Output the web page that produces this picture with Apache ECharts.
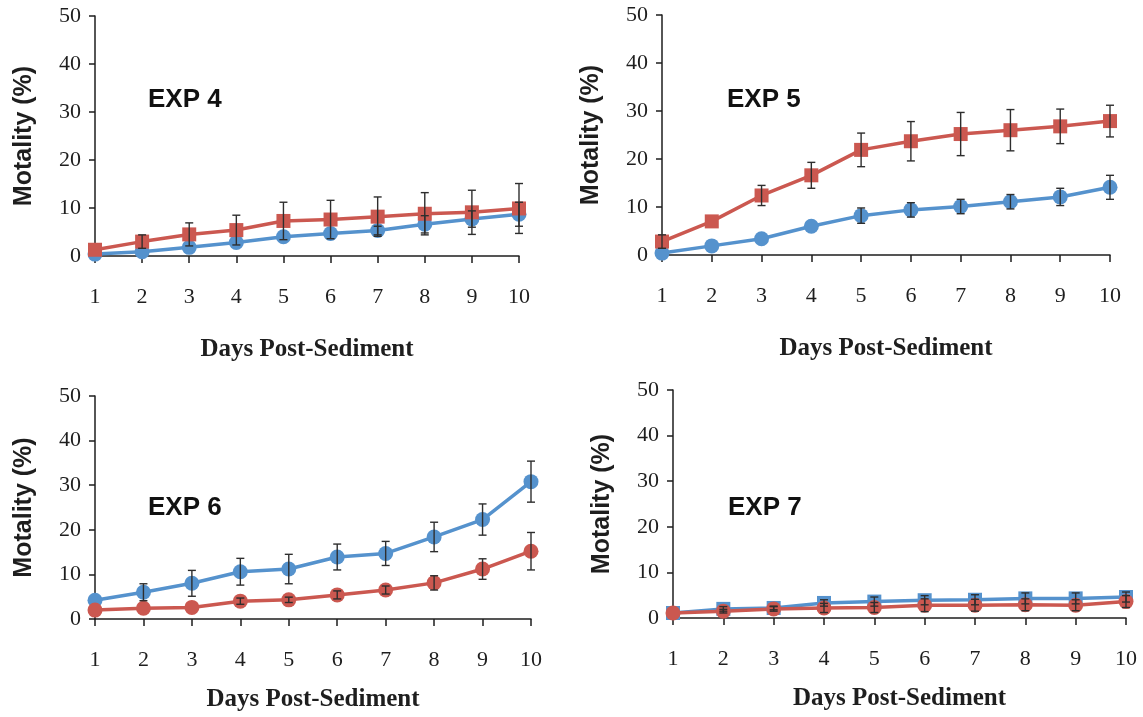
<!DOCTYPE html>
<html>
<head>
<meta charset="utf-8">
<script src="https://cdn.jsdelivr.net/npm/echarts@6/dist/echarts.min.js"></script>
<style>
  html, body { margin: 0; padding: 0; background: #fff; }
  #main { width: 1143px; height: 717px; }
</style>
</head>
<body>
<div id="main"></div>
<script>
// days on the x axis
const days = [1, 2, 3, 4, 5, 6, 7, 8, 9, 10];
const yTicks = [0, 10, 20, 30, 40, 50];

// EXP 4
const exp4Blue = [0.4, 0.9, 1.8, 2.8, 4.0, 4.7, 5.3, 6.6, 7.7, 8.7];
const exp4BlueErr = [0, 0, 0, 0, 0, 0, 0.9, 1.8, 1.7, 2.5];
const exp4Red = [1.3, 3.0, 4.5, 5.4, 7.3, 7.6, 8.2, 8.8, 9.1, 9.9];
const exp4RedErr = [0, 1.4, 2.4, 3.1, 3.9, 4.0, 4.1, 4.4, 4.6, 5.2];

// EXP 5
const exp5Blue = [0.4, 1.9, 3.4, 6.0, 8.2, 9.4, 10.1, 11.1, 12.1, 14.1];
const exp5BlueErr = [0, 0, 0, 0, 1.6, 1.5, 1.5, 1.5, 1.8, 2.5];
const exp5Red = [2.8, 7.0, 12.4, 16.6, 21.9, 23.7, 25.2, 26.0, 26.8, 27.9];
const exp5RedErr = [1.4, 0, 2.1, 2.7, 3.5, 4.1, 4.5, 4.3, 3.6, 3.3];

// EXP 6
const exp6Blue = [4.2, 6.0, 8.0, 10.6, 11.2, 13.9, 14.7, 18.4, 22.3, 30.8];
const exp6BlueErr = [0, 1.9, 2.9, 3.0, 3.3, 2.9, 2.7, 3.3, 3.5, 4.6];
const exp6Red = [2.0, 2.4, 2.6, 4.0, 4.3, 5.4, 6.5, 8.1, 11.2, 15.2];
const exp6RedErr = [0, 0, 0, 0.7, 0.6, 0.9, 0.9, 1.6, 2.3, 4.2];

// EXP 7
const exp7Blue = [1.1, 2.0, 2.2, 3.3, 3.6, 3.9, 4.0, 4.3, 4.3, 4.6];
const exp7BlueErr = [0, 0.5, 0.4, 0.7, 1.0, 1.0, 1.1, 1.2, 1.2, 1.1];
const exp7Red = [1.1, 1.5, 2.0, 2.2, 2.3, 2.8, 2.8, 2.9, 2.8, 3.6];
const exp7RedErr = [0, 0.4, 0.5, 1.0, 1.1, 1.4, 1.3, 1.3, 1.2, 1.3];

const titles = ['EXP 4', 'EXP 5', 'EXP 6', 'EXP 7'];
const xName = 'Days Post-Sediment';
const yName = 'Motality (%)';

const BLUE = '#5592cd';
const RED = '#cb5850';
const INK = '#1e1e1e';

const panels = [
  { blue: exp4Blue, blueErr: exp4BlueErr, red: exp4Red, redErr: exp4RedErr, blueSym: 'circle', redSym: 'rect' },
  { blue: exp5Blue, blueErr: exp5BlueErr, red: exp5Red, redErr: exp5RedErr, blueSym: 'circle', redSym: 'rect' },
  { blue: exp6Blue, blueErr: exp6BlueErr, red: exp6Red, redErr: exp6RedErr, blueSym: 'circle', redSym: 'circle' },
  { blue: exp7Blue, blueErr: exp7BlueErr, red: exp7Red, redErr: exp7RedErr, blueSym: 'rect', redSym: 'circle' }
];

// layout of the four panels
const grids = [
  { left: 95, top: 16, width: 424, height: 240 },
  { left: 662, top: 15, width: 448, height: 240 },
  { left: 95, top: 396, width: 436, height: 223 },
  { left: 673, top: 390, width: 453, height: 228 }
];
const titlePos = [[148, 87], [727, 87], [148, 495], [728, 495]];
const xNameGap = [81, 81, 68, 68];

function errData(vals, errs) {
  return days.map((d, i) => [d, vals[i] - errs[i], vals[i] + errs[i]]);
}

function errorBars(params, api) {
  const x = api.value(0);
  if (api.value(2) - api.value(1) <= 0) return null;
  const lo = api.coord([x, api.value(1)]);
  const hi = api.coord([x, api.value(2)]);
  const cap = 4;
  const style = { stroke: '#2e2e2e', lineWidth: 1.4 };
  return {
    type: 'group',
    children: [
      { type: 'line', shape: { x1: hi[0], y1: hi[1], x2: lo[0], y2: lo[1] }, style: style },
      { type: 'line', shape: { x1: hi[0] - cap, y1: hi[1], x2: hi[0] + cap, y2: hi[1] }, style: style },
      { type: 'line', shape: { x1: lo[0] - cap, y1: lo[1], x2: lo[0] + cap, y2: lo[1] }, style: style }
    ]
  };
}

const xAxes = [], yAxes = [], series = [], titleList = [];
panels.forEach((p, i) => {
  xAxes.push({
    gridIndex: i,
    type: 'value',
    min: 1, max: 10, interval: 1,
    name: xName,
    nameLocation: 'middle',
    nameGap: xNameGap[i],
    nameTextStyle: { fontFamily: 'Liberation Serif', fontWeight: 'bold', fontSize: 25, color: INK },
    axisLine: { lineStyle: { color: INK, width: 1.5 } },
    axisTick: { length: 7, lineStyle: { color: INK, width: 1.5 } },
    axisLabel: { margin: 30, fontFamily: 'Liberation Serif', fontSize: 22, color: INK },
    splitLine: { show: false }
  });
  yAxes.push({
    gridIndex: i,
    type: 'value',
    min: 0, max: 50, interval: 10,
    name: yName,
    nameLocation: 'middle',
    nameGap: 58,
    nameTextStyle: { fontFamily: 'Liberation Sans', fontWeight: 'bold', fontSize: 25, color: INK },
    axisLine: { show: true, lineStyle: { color: INK, width: 1.5 } },
    axisTick: { show: true, length: 6, lineStyle: { color: INK, width: 1.5 } },
    axisLabel: { margin: 14, fontFamily: 'Liberation Serif', fontSize: 22, color: INK,
      formatter: v => yTicks.indexOf(v) >= 0 ? String(v) : '' },
    splitLine: { show: false }
  });
  titleList.push({
    text: titles[i],
    left: titlePos[i][0], top: titlePos[i][1], padding: 0,
    textStyle: { fontFamily: 'Liberation Sans', fontWeight: 'bold', fontSize: 26, color: '#111' }
  });
  const lines = [
    { vals: p.blue, errs: p.blueErr, color: BLUE, sym: p.blueSym },
    { vals: p.red, errs: p.redErr, color: RED, sym: p.redSym }
  ];
  lines.forEach((l) => {
    series.push({
      type: 'line',
      xAxisIndex: i, yAxisIndex: i,
      data: days.map((d, k) => [d, l.vals[k]]),
      symbol: l.sym,
      symbolSize: l.sym === 'rect' ? 14 : 15,
      showAllSymbol: true,
      lineStyle: { color: l.color, width: 3.5 },
      itemStyle: { color: l.color },
      z: 2,
      animation: false
    });
    series.push({
      type: 'custom',
      xAxisIndex: i, yAxisIndex: i,
      data: errData(l.vals, l.errs),
      encode: { x: 0, y: [1, 2] },
      renderItem: errorBars,
      z: 3,
      animation: false
    });
  });
});

const chart = echarts.init(document.getElementById('main'), null, { renderer: 'canvas' });
chart.setOption({
  backgroundColor: '#fff',
  animation: false,
  title: titleList,
  grid: grids,
  xAxis: xAxes,
  yAxis: yAxes,
  series: series
});
</script>
</body>
</html>
